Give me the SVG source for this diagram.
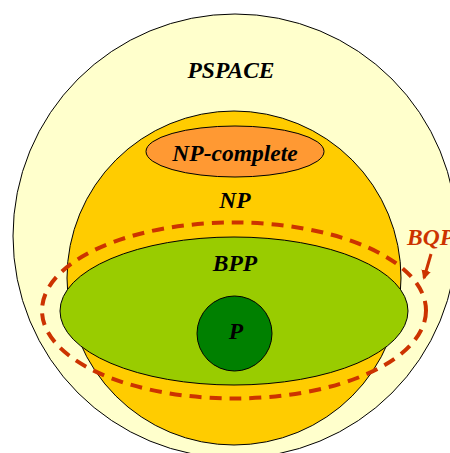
<svg xmlns="http://www.w3.org/2000/svg" width="450" height="453" viewBox="0 0 450 453">
<style>
.o{stroke:#000;stroke-width:1}
.t{font-family:"Liberation Serif","Times New Roman",serif;font-style:italic;font-weight:bold;font-size:23.5px;text-anchor:middle;fill:#000}
</style>
<defs>
<marker id="ah" viewBox="0 0 10 10" refX="8" refY="5" markerWidth="3.2" markerHeight="3.2" orient="auto"><path d="M0,0L10,5L0,10z" fill="#cc3300"/></marker>
</defs>
<rect width="450" height="453" fill="#fff"/>
<g id="pspace"><circle class="o" cx="235" cy="236" r="222" fill="#ffffcc"/><text class="t" x="231" y="78">PSPACE</text></g>
<g id="np"><circle class="o" cx="234" cy="278" r="167" fill="#ffcc00"/><text class="t" x="235" y="208">NP</text></g>
<g id="npc"><ellipse class="o" cx="235" cy="151.5" rx="89" ry="25.5" fill="#ff9933"/><text class="t" x="235" y="161">NP-complete</text></g>
<g id="bpp"><ellipse class="o" cx="234" cy="311" rx="174" ry="74" fill="#99cc00"/><text class="t" x="235" y="271">BPP</text></g>
<g id="p"><circle class="o" cx="234.5" cy="333.5" r="37.5" fill="#008000"/><text class="t" x="236" y="339">P</text></g>
<g id="bqp"><ellipse cx="234" cy="310.5" rx="192" ry="88" fill="none" stroke="#cc3300" stroke-width="4" stroke-dasharray="12 8"/><text class="t" x="407" y="245" style="text-anchor:start;fill:#cc3300">BQP</text></g>
<g id="connectors"><line x1="431" y1="254" x2="424" y2="278" stroke="#cc3300" stroke-width="3" marker-end="url(#ah)"/></g>
</svg>
